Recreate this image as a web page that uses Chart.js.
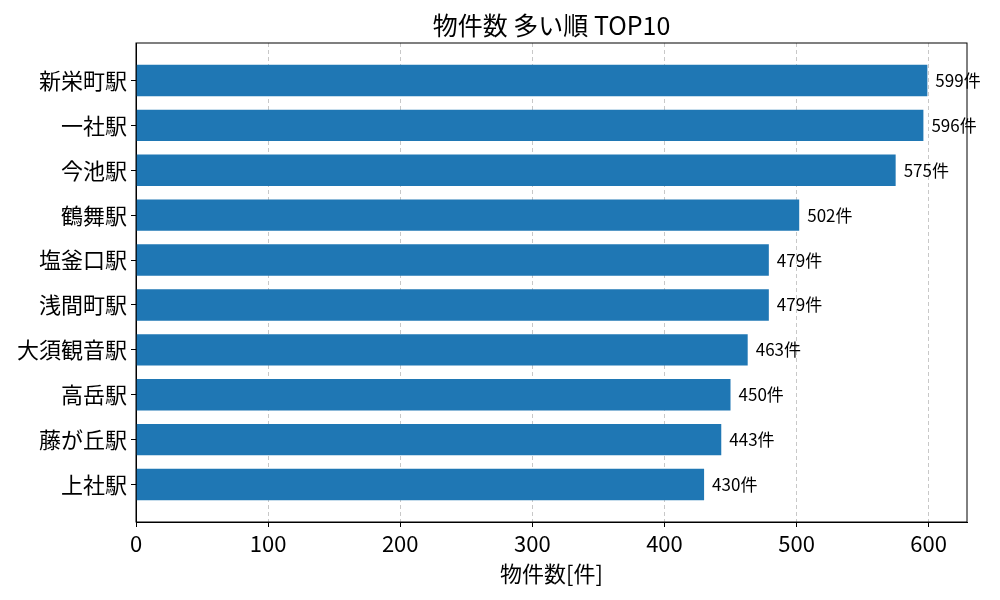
<!DOCTYPE html>
<html>
<head>
<meta charset="utf-8">
<script src="https://cdn.jsdelivr.net/npm/chart.js@4"></script>
<style>
  body { margin: 0; background: #fff; }
  #wrap { width: 1000px; height: 600px; }
</style>
</head>
<body>
<div id="wrap"><canvas id="rankChart"></canvas></div>
<script>
// 物件数 多い順 TOP10
const stations = ['新栄町駅', '一社駅', '今池駅', '鶴舞駅', '塩釜口駅', '浅間町駅', '大須観音駅', '高岳駅', '藤が丘駅', '上社駅'];
const counts = [599, 596, 575, 502, 479, 479, 463, 450, 443, 430];
const xTicks = [0, 100, 200, 300, 400, 500, 600];

const FONT = "'Noto Sans CJK JP', 'Noto Sans', sans-serif";

// frame, title and value labels
const extras = {
    id: 'extras',
    afterDraw(chart) {
        const c = chart.ctx;
        const a = chart.chartArea;
        c.save();
        c.strokeStyle = '#000';
        c.lineWidth = 1;
        c.strokeRect(a.left, a.top, a.right - a.left, a.bottom - a.top);

        c.fillStyle = '#000';
        c.font = '25px ' + FONT;
        c.textAlign = 'center';
        c.textBaseline = 'middle';
        c.fillText('物件数 多い順 TOP10', (a.left + a.right) / 2, 25);

        c.font = '17px ' + FONT;
        c.textAlign = 'left';
        c.textBaseline = 'middle';
        chart.getDatasetMeta(0).data.forEach((bar, i) => {
            c.fillText(counts[i] + '件', bar.x + 8, bar.y);
        });
        c.restore();
    }
};

const ctx = document.getElementById('rankChart').getContext('2d');
const rankChart = new Chart(ctx, {
    type: 'bar',
    data: {
        datasets: [{
            data: counts.map((v, i) => ({ x: v, y: i })),
            backgroundColor: '#1f77b4',
            borderWidth: 0,
            barPercentage: 0.7,
            categoryPercentage: 1
        }]
    },
    options: {
        indexAxis: 'y',
        responsive: true,
        maintainAspectRatio: false,
        animation: false,
        layout: { padding: { left: 0, right: 33, top: 43, bottom: 0 } },
        plugins: {
            legend: { display: false },
            tooltip: { enabled: false }
        },
        scales: {
            x: {
                type: 'linear',
                min: 0,
                max: 629,
                afterFit: s => { s.height = 78; },
                afterBuildTicks: s => { s.ticks = xTicks.map(v => ({ value: v })); },
                ticks: {
                    font: { family: FONT, size: 22 },
                    color: '#000',
                    padding: 3
                },
                grid: {
                    color: '#c8c8c8',
                    tickColor: '#000',
                    tickLength: 5,
                    tickBorderDash: []
                },
                border: { color: '#000', dash: [4, 3] },
                title: {
                    display: true,
                    text: '物件数[件]',
                    font: { family: FONT, size: 22 },
                    color: '#000',
                    padding: { top: 0, bottom: 13 }
                }
            },
            y: {
                type: 'linear',
                reverse: true,
                offset: false,
                min: -0.835,
                max: 9.835,
                afterFit: s => { s.width = 136; },
                afterBuildTicks: s => { s.ticks = stations.map((_, i) => ({ value: i })); },
                ticks: {
                    font: { family: FONT, size: 22 },
                    color: '#000',
                    padding: 4,
                    callback: v => stations[v]
                },
                grid: {
                    offset: false,
                    drawOnChartArea: false,
                    tickColor: '#000',
                    tickLength: 5
                },
                border: { color: '#000' }
            }
        }
    },
    plugins: [extras]
});
</script>
</body>
</html>
